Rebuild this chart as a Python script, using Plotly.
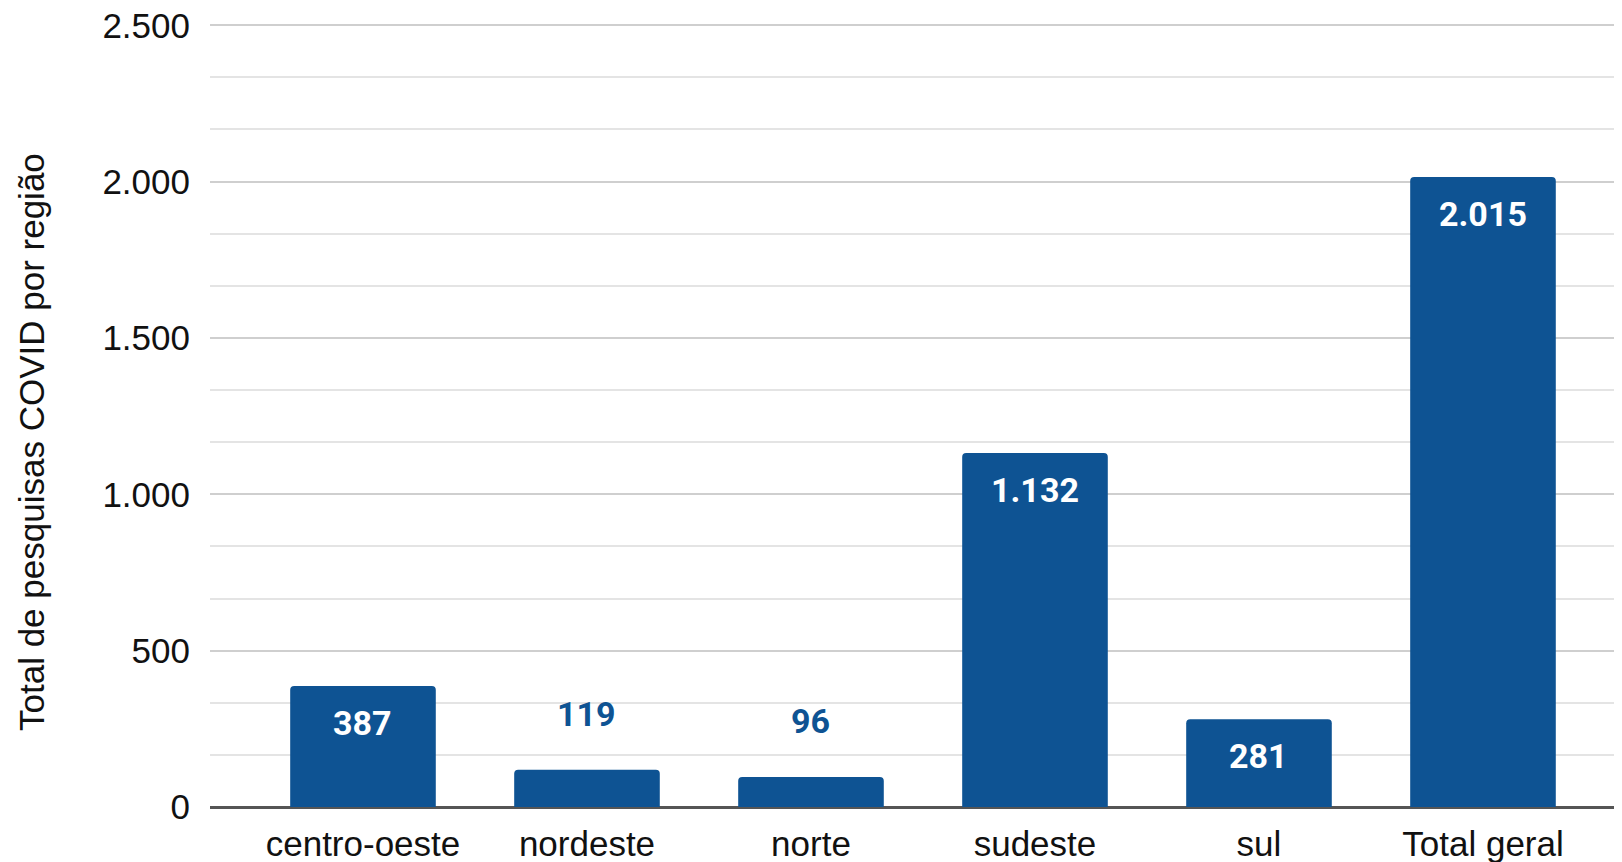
import plotly.graph_objects as go

categories = ["centro-oeste", "nordeste", "norte", "sudeste", "sul", "Total geral"]
values = [387, 119, 96, 1132, 281, 2015]
y_tick_values = [0, 500, 1000, 1500, 2000, 2500]
y_tick_labels = ["0", "500", "1.000", "1.500", "2.000", "2.500"]
y_title = "Total de pesquisas COVID por região"

BAR = "#0e5393"
# page body has an 8px margin, so the figure is drawn 8px smaller
W, H = 1614, 854
L, R, T, B = 202, 0, 11, 55
X0 = -0.683
PX_PER_CAT = 224.0
Y_TOP = 2520


def fmt(v):
    return f"{v:,}".replace(",", ".")


fig = go.Figure()
fig.add_trace(go.Bar(
    x=categories, y=values, marker=dict(color=BAR, line=dict(width=0)),
    hoverinfo="skip",
))

annotations = []
for c, v in zip(categories, values):
    inside = v > 200
    annotations.append(dict(
        x=c, y=v, xref="x", yref="y", text=fmt(v), showarrow=False,
        yanchor="middle", yshift=-37 if inside else 56,
        font=dict(family="Roboto", size=34, color="white" if inside else BAR, weight="bold"),
    ))

plot_w = W - L - R
plot_h = H - T - B
annotations.append(dict(
    text=y_title, xref="paper", yref="paper",
    x=-(L - 23) / plot_w, y=(H - B - 434) / plot_h,
    xanchor="center", yanchor="middle", textangle=-90, showarrow=False,
    font=dict(family="Liberation Sans, Arial", size=35, color="#111"),
))

fig.update_layout(
    width=W, height=H,
    margin=dict(l=L, r=R, t=T, b=B, autoexpand=False),
    paper_bgcolor="white", plot_bgcolor="white",
    bargap=0.35, barcornerradius=4,
    showlegend=False,
    annotations=annotations,
    font=dict(family="Liberation Sans, Arial", size=35, color="#111"),
)
fig.update_xaxes(
    range=[X0, X0 + plot_w / PX_PER_CAT], showgrid=False, showline=False, zeroline=False,
    ticks="", ticklabelstandoff=13, automargin=False, ticklabeloverflow="allow",
    tickfont=dict(family="Liberation Sans, Arial", size=35, color="#111"),
)
fig.update_yaxes(
    range=[0, Y_TOP], tickvals=y_tick_values, ticktext=y_tick_labels,
    showgrid=True, gridcolor="#cfcfcf", gridwidth=2,
    minor=dict(dtick=2500 / 15, showgrid=True, gridcolor="#e4e4e4", gridwidth=2),
    zeroline=True, zerolinecolor="#555555", zerolinewidth=3,
    showline=False, ticks="", ticklabelstandoff=19, automargin=False,
    ticklabeloverflow="allow",
    tickfont=dict(family="Liberation Sans, Arial", size=35, color="#111"),
)

fig.write_html("out.html")
